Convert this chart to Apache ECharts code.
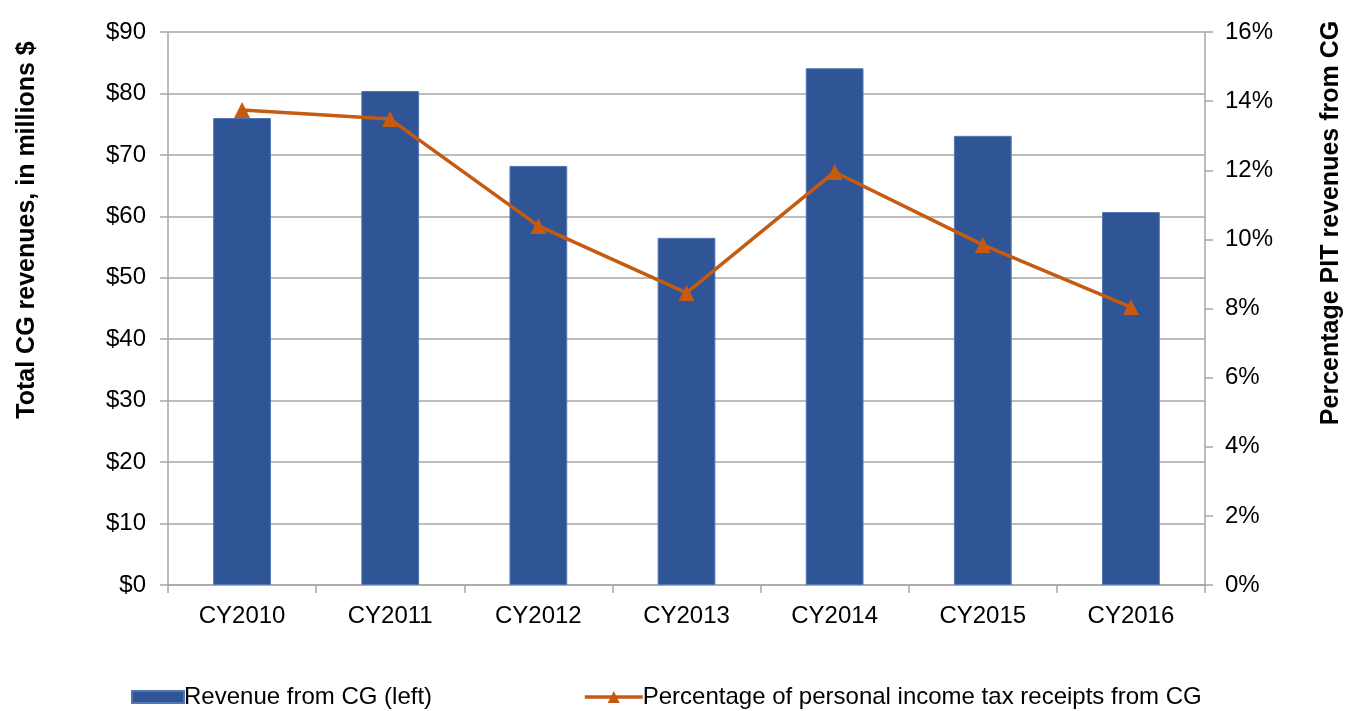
<!DOCTYPE html>
<html>
<head>
<meta charset="utf-8">
<script src="https://cdn.jsdelivr.net/npm/echarts@6/dist/echarts.min.js"></script>
<style>html,body{margin:0;padding:0;background:#fff;}#c{width:1345px;height:711px;}</style>
</head>
<body>
<div id="c"></div>
<script>
const categories = ['CY2010','CY2011','CY2012','CY2013','CY2014','CY2015','CY2016'];
const revenue = [76.0, 80.4, 68.2, 56.5, 84.1, 73.1, 60.7];
const pitShare = [13.74, 13.48, 10.39, 8.45, 11.95, 9.84, 8.04];
const barName = 'Revenue from CG (left)';
const lineName = 'Percentage of personal income tax receipts from CG';
const leftTitle = 'Total CG revenues, in millions $';
const rightTitle = 'Percentage PIT revenues from CG';

const chart = echarts.init(document.getElementById('c'));
const font = 'Liberation Sans, Arial, sans-serif';
const gridGray = '#a6a6a6';
const fs = 24;
chart.setOption({
  animation: false,
  textStyle: {fontFamily: font},
  grid: {left: 168, right: 140, top: 32, bottom: 126},
  graphic: [
    {type: 'text', x: 27, y: 230, rotation: Math.PI / 2,
     style: {text: leftTitle, font: 'bold 25px ' + font, fill: '#000', textAlign: 'center', textVerticalAlign: 'middle'}},
    {type: 'text', x: 1331, y: 223, rotation: Math.PI / 2,
     style: {text: rightTitle, font: 'bold 25px ' + font, fill: '#000', textAlign: 'center', textVerticalAlign: 'middle'}}
  ],
  legend: [
    {data: [barName], left: 131, top: 685, itemWidth: 52, itemHeight: 12, icon: 'rect', padding: 0,
     textStyle: {fontSize: fs, color: '#000', fontFamily: font, padding: [0,0,0,-5]}},
    {data: [lineName], left: 583, top: 685, itemWidth: 58, itemHeight: 15, padding: 0,
     lineStyle: {width: 3.5},
     textStyle: {fontSize: fs, color: '#000', fontFamily: font, padding: [0,0,0,-5]}}
  ],
  xAxis: {
    type: 'category', data: categories,
    axisLine: {lineStyle: {color: gridGray, width: 1.5}},
    axisTick: {show: true, length: 8, lineStyle: {color: gridGray, width: 1.5}},
    axisLabel: {fontSize: fs, color: '#000', margin: 19}
  },
  yAxis: [
    {type: 'value', min: 0, max: 90, interval: 10,
     axisLine: {show: true, lineStyle: {color: gridGray, width: 1.5}},
     axisTick: {show: true, length: 8, lineStyle: {color: gridGray, width: 1.5}},
     axisLabel: {fontSize: fs, color: '#000', margin: 22, formatter: '${value}'},
     splitLine: {lineStyle: {color: gridGray, width: 1.5}}},
    {type: 'value', min: 0, max: 16, interval: 2,
     axisLine: {show: true, lineStyle: {color: gridGray, width: 1.5}},
     axisTick: {show: true, length: 8, lineStyle: {color: gridGray, width: 1.5}},
     axisLabel: {fontSize: fs, color: '#000', margin: 20, formatter: '{value}%'},
     splitLine: {show: false}}
  ],
  series: [
    {name: barName, type: 'bar', data: revenue, barWidth: '39%', yAxisIndex: 0,
     itemStyle: {color: '#2F5597', borderColor: '#5577b0', borderWidth: 1}},
    {name: lineName, type: 'line', data: pitShare, yAxisIndex: 1,
     symbol: 'triangle', symbolSize: 16,
     lineStyle: {color: '#C55A11', width: 3.5}, itemStyle: {color: '#C55A11'}}
  ]
});
</script>
</body>
</html>
